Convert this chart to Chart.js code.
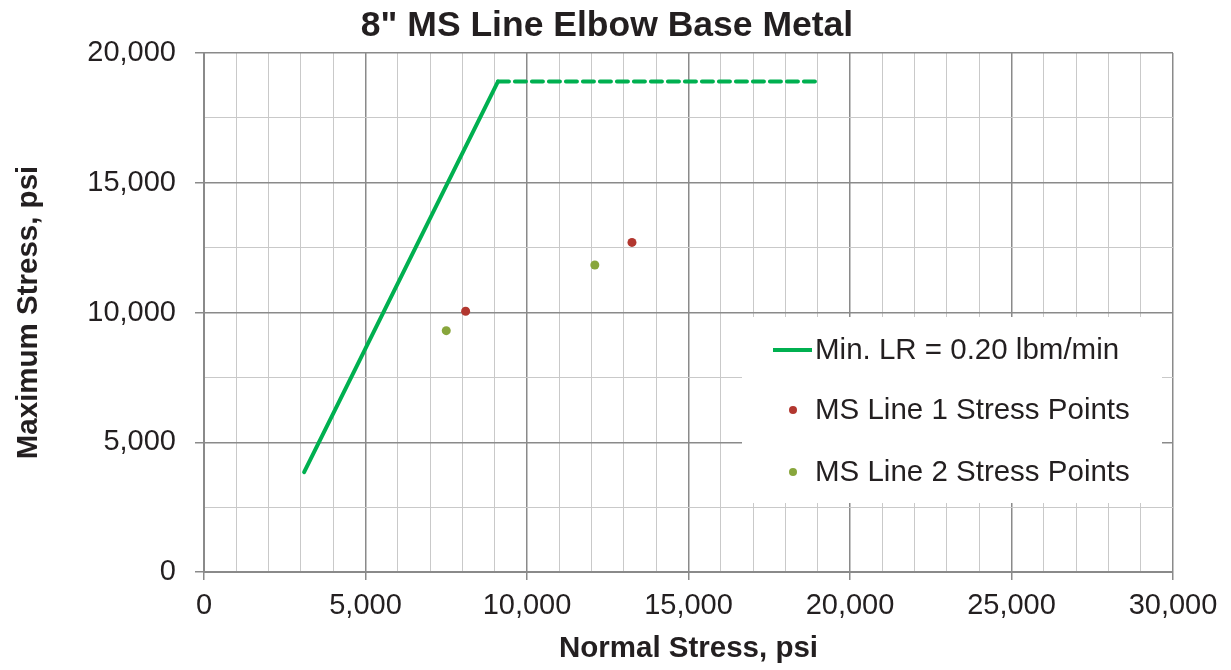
<!DOCTYPE html>
<html>
<head>
<meta charset="utf-8">
<script src="https://cdn.jsdelivr.net/npm/chart.js@4.4.1/dist/chart.umd.min.js"></script>
<style>
  html, body { margin: 0; padding: 0; background: #ffffff; }
  #wrap { width: 1231px; height: 670px; position: relative; }
</style>
</head>
<body>
<div id="wrap"><canvas id="c" width="1231" height="670"></canvas></div>
<script>
// ---- data ----
const chartTitle = '8" MS Line Elbow Base Metal';
const xAxisTitle = 'Normal Stress, psi';
const yAxisTitle = 'Maximum Stress, psi';

const limitLabel = 'Min. LR = 0.20 lbm/min';
const limitX = [3100, 9100];
const limitY = [3850, 18900];
const plateauX = [9100, 19000];
const plateauY = [18900, 18900];

const line1Label = 'MS Line 1 Stress Points';
const line1X = [8100, 13250];
const line1Y = [10050, 12700];

const line2Label = 'MS Line 2 Stress Points';
const line2X = [7500, 12100];
const line2Y = [9300, 11830];

const xMin = 0, xMax = 30000, xStep = 1000, xLabelStep = 5000;
const yMin = 0, yMax = 20000, yStep = 2500, yLabelStep = 5000;

// ---- build ----
const pts = (xs, ys) => xs.map((x, i) => ({ x: x, y: ys[i] }));
const FONT = "'Liberation Sans', Arial, sans-serif";
const TEXT = '#231f20';
const MAJOR = '#8a8a8a';
const MINOR = '#c9c9c9';
const fmt = v => v.toLocaleString('en-US');

const titlePlugin = {
  id: 'customTitle',
  afterDraw(chart) {
    const ctx = chart.ctx;
    ctx.save();
    ctx.fillStyle = TEXT;
    ctx.font = "bold 35.5px " + FONT;
    ctx.textAlign = 'center';
    ctx.textBaseline = 'middle';
    ctx.fillText(chartTitle, 607, 26);
    ctx.restore();
  }
};

const legendPlugin = {
  id: 'boxLegend',
  afterDatasetsDraw(chart) {
    const ctx = chart.ctx;
    const items = chart.data.datasets.filter(d => !d.hideInLegend);
    ctx.save();
    ctx.fillStyle = '#ffffff';
    ctx.fillRect(742, 317, 420, 186);
    const rows = [350, 410, 472];
    ctx.font = "29.5px " + FONT;
    ctx.textBaseline = 'middle';
    ctx.textAlign = 'left';
    items.forEach((d, i) => {
      const y = rows[i];
      if (d.showLine) {
        ctx.strokeStyle = d.borderColor;
        ctx.lineWidth = d.borderWidth;
        ctx.beginPath();
        ctx.moveTo(773, y);
        ctx.lineTo(812, y);
        ctx.stroke();
      } else {
        ctx.fillStyle = d.pointBackgroundColor;
        ctx.beginPath();
        ctx.arc(793, y, 4, 0, Math.PI * 2);
        ctx.fill();
      }
      ctx.fillStyle = TEXT;
      ctx.fillText(d.label, 815, y + 1);
    });
    ctx.restore();
  }
};

new Chart(document.getElementById('c'), {
  type: 'scatter',
  data: {
    datasets: [
      {
        label: limitLabel,
        data: pts(limitX, limitY),
        showLine: true,
        borderColor: '#00b050',
        backgroundColor: '#00b050',
        borderWidth: 4,
        pointRadius: 0,
        borderCapStyle: 'round',
        order: 3
      },
      {
        label: 'plateau',
        hideInLegend: true,
        data: pts(plateauX, plateauY),
        showLine: true,
        borderColor: '#00b050',
        backgroundColor: '#00b050',
        borderWidth: 4,
        borderDash: [11, 6],
        borderCapStyle: 'round',
        pointRadius: 0,
        order: 3
      },
      {
        label: line1Label,
        data: pts(line1X, line1Y),
        showLine: false,
        pointRadius: 4.5,
        pointBackgroundColor: '#b2372f',
        pointBorderColor: '#b2372f',
        backgroundColor: '#b2372f',
        borderColor: '#b2372f',
        pointBorderWidth: 0,
        order: 1
      },
      {
        label: line2Label,
        data: pts(line2X, line2Y),
        showLine: false,
        pointRadius: 4.5,
        pointBackgroundColor: '#88a63c',
        pointBorderColor: '#88a63c',
        backgroundColor: '#88a63c',
        borderColor: '#88a63c',
        pointBorderWidth: 0,
        order: 2
      }
    ]
  },
  options: {
    responsive: false,
    animation: false,
    devicePixelRatio: 1,
    layout: { padding: { top: 53, right: 58, bottom: 0, left: 0 } },
    plugins: {
      legend: { display: false },
      title: { display: false },
      tooltip: { enabled: false }
    },
    scales: {
      x: {
        type: 'linear',
        min: xMin, max: xMax,
        afterFit(scale) { scale.height = 98; },
        ticks: {
          stepSize: xStep,
          autoSkip: false,
          maxRotation: 0,
          minRotation: 0,
          padding: 9,
          color: TEXT,
          font: { family: FONT, size: 29 },
          callback: v => (v % xLabelStep === 0 ? fmt(v) : '')
        },
        grid: {
          color: c => (c.tick && c.tick.value % xLabelStep === 0 ? MAJOR : MINOR),
          lineWidth: c => (c.tick && c.tick.value % xLabelStep === 0 ? 1.5 : 1),
          tickColor: c => (c.tick && c.tick.value % xLabelStep === 0 ? MAJOR : 'rgba(0,0,0,0)'),
          tickLength: 8,
          drawTicks: true
        },
        border: { color: MAJOR, width: 2 },
        title: {
          display: true,
          text: xAxisTitle,
          color: TEXT,
          font: { family: FONT, size: 29.5, weight: 'bold' },
          padding: { top: 0, bottom: 3 }
        }
      },
      y: {
        type: 'linear',
        min: yMin, max: yMax,
        afterFit(scale) { scale.width = 204; },
        ticks: {
          stepSize: yStep,
          autoSkip: false,
          padding: 19,
          color: TEXT,
          font: { family: FONT, size: 29 },
          callback: v => (v % yLabelStep === 0 ? fmt(v) : '')
        },
        grid: {
          color: c => (c.tick && c.tick.value % yLabelStep === 0 ? MAJOR : MINOR),
          lineWidth: c => (c.tick && c.tick.value % yLabelStep === 0 ? 1.5 : 1),
          tickColor: c => (c.tick && c.tick.value % yLabelStep === 0 ? MAJOR : 'rgba(0,0,0,0)'),
          tickLength: 9,
          drawTicks: true
        },
        border: { color: MAJOR, width: 2 },
        title: {
          display: true,
          text: yAxisTitle,
          color: TEXT,
          font: { family: FONT, size: 29.5, weight: 'bold' },
          padding: { top: 11, bottom: 0 }
        }
      }
    }
  },
  plugins: [titlePlugin, legendPlugin]
});
</script>
</body>
</html>
